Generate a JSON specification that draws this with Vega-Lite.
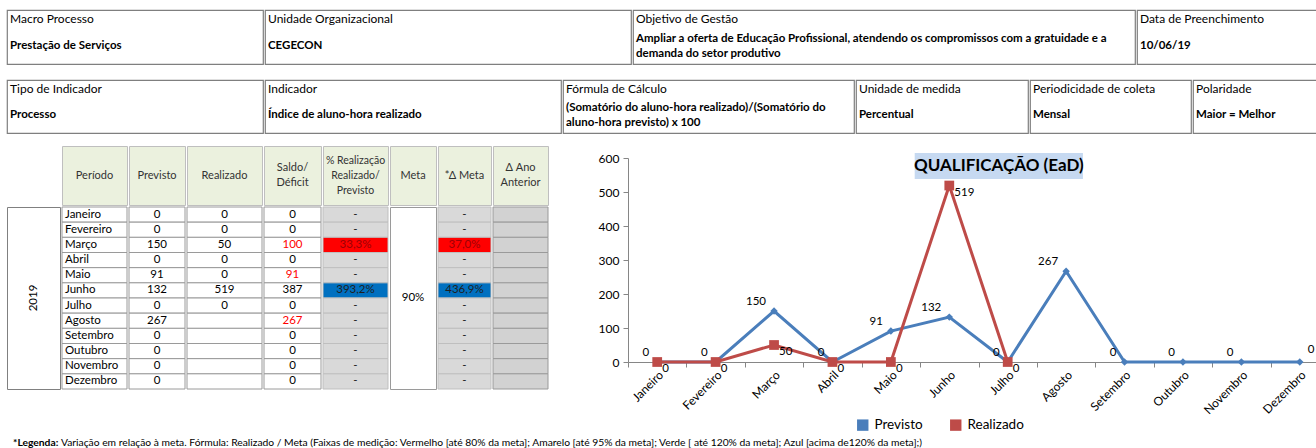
{
  "$schema": "https://vega.github.io/schema/vega-lite/v6.json",
  "padding": {"left": 6, "top": 9, "right": 0, "bottom": 0},
  "background": "white",
  "config": {"font": "Lato", "view": {"stroke": null}},
  "datasets": {
    "tabela": [
      {"Mes": "Janeiro", "Previsto": 0, "Realizado": 0, "Saldo": 0, "Realizacao": "-", "DeltaMeta": "-", "Faixa": "sem"},
      {"Mes": "Fevereiro", "Previsto": 0, "Realizado": 0, "Saldo": 0, "Realizacao": "-", "DeltaMeta": "-", "Faixa": "sem"},
      {"Mes": "Março", "Previsto": 150, "Realizado": 50, "Saldo": 100, "Realizacao": "33,3%", "DeltaMeta": "37,0%", "Faixa": "vermelho"},
      {"Mes": "Abril", "Previsto": 0, "Realizado": 0, "Saldo": 0, "Realizacao": "-", "DeltaMeta": "-", "Faixa": "sem"},
      {"Mes": "Maio", "Previsto": 91, "Realizado": 0, "Saldo": 91, "Realizacao": "-", "DeltaMeta": "-", "Faixa": "sem"},
      {"Mes": "Junho", "Previsto": 132, "Realizado": 519, "Saldo": 387, "Realizacao": "393,2%", "DeltaMeta": "436,9%", "Faixa": "azul"},
      {"Mes": "Julho", "Previsto": 0, "Realizado": 0, "Saldo": 0, "Realizacao": "-", "DeltaMeta": "-", "Faixa": "sem"},
      {"Mes": "Agosto", "Previsto": 267, "Realizado": null, "Saldo": 267, "Realizacao": "-", "DeltaMeta": "-", "Faixa": "sem"},
      {"Mes": "Setembro", "Previsto": 0, "Realizado": null, "Saldo": 0, "Realizacao": "-", "DeltaMeta": "-", "Faixa": "sem"},
      {"Mes": "Outubro", "Previsto": 0, "Realizado": null, "Saldo": 0, "Realizacao": "-", "DeltaMeta": "-", "Faixa": "sem"},
      {"Mes": "Novembro", "Previsto": 0, "Realizado": null, "Saldo": 0, "Realizacao": "-", "DeltaMeta": "-", "Faixa": "sem"},
      {"Mes": "Dezembro", "Previsto": 0, "Realizado": null, "Saldo": 0, "Realizacao": "-", "DeltaMeta": "-", "Faixa": "sem"}
    ]
  },
  "spacing": 6,
  "resolve": {"scale": {"color": "independent"}, "legend": {"color": "independent"}},
  "vconcat": [
    {
      "spacing": 14,
      "vconcat": [
        {
          "spacing": 0,
          "hconcat": [
            {"width": 256, "height": 54, "view": {"stroke": "#7F7F7F", "strokeWidth": 1.2}, "data": {"values": [{"rotulo": "Macro Processo", "valor": "Prestação de Serviços"}]},
             "layer": [
              {"mark": {"type": "text", "align": "left", "dx": 3, "dy": -4.5, "fontSize": 12, "color": "#000"}, "encoding": {"x": {"datum": 0, "type": "quantitative", "scale": {"domain": [0, 1]}, "axis": null}, "y": {"datum": "rotulo", "type": "ordinal", "scale": {"domain": ["rotulo", "valor"]}, "axis": null}, "text": {"field": "rotulo"}}},
              {"mark": {"type": "text", "align": "left", "dx": 3, "dy": -4.5, "fontSize": 11.5, "fontWeight": "bold", "color": "#000"}, "encoding": {"x": {"datum": 0, "type": "quantitative", "scale": {"domain": [0, 1]}, "axis": null}, "y": {"datum": "valor", "type": "ordinal", "scale": {"domain": ["rotulo", "valor"]}, "axis": null}, "text": {"field": "valor"}}}
            ]},
            {"width": 366, "height": 54, "view": {"stroke": "#7F7F7F", "strokeWidth": 1.2}, "data": {"values": [{"rotulo": "Unidade Organizacional", "valor": "CEGECON"}]},
             "layer": [
              {"mark": {"type": "text", "align": "left", "dx": 3, "dy": -4.5, "fontSize": 12, "color": "#000"}, "encoding": {"x": {"datum": 0, "type": "quantitative", "scale": {"domain": [0, 1]}, "axis": null}, "y": {"datum": "rotulo", "type": "ordinal", "scale": {"domain": ["rotulo", "valor"]}, "axis": null}, "text": {"field": "rotulo"}}},
              {"mark": {"type": "text", "align": "left", "dx": 3, "dy": -4.5, "fontSize": 11.5, "fontWeight": "bold", "color": "#000"}, "encoding": {"x": {"datum": 0, "type": "quantitative", "scale": {"domain": [0, 1]}, "axis": null}, "y": {"datum": "valor", "type": "ordinal", "scale": {"domain": ["rotulo", "valor"]}, "axis": null}, "text": {"field": "valor"}}}
            ]},
            {"width": 502, "height": 54, "view": {"stroke": "#7F7F7F", "strokeWidth": 1.2}, "data": {"values": [{"rotulo": "Objetivo de Gestão", "valor": "Ampliar a oferta de Educação Profissional, atendendo os compromissos com a gratuidade e a\ndemanda do setor produtivo"}]},
             "layer": [
              {"mark": {"type": "text", "align": "left", "dx": 3, "dy": -4.5, "fontSize": 12, "color": "#000"}, "encoding": {"x": {"datum": 0, "type": "quantitative", "scale": {"domain": [0, 1]}, "axis": null}, "y": {"datum": "rotulo", "type": "ordinal", "scale": {"domain": ["rotulo", "valor"]}, "axis": null}, "text": {"field": "rotulo"}}},
              {"mark": {"type": "text", "align": "left", "dx": 3, "dy": -11.5, "fontSize": 11.5, "fontWeight": "bold", "color": "#000", "lineBreak": "\n", "lineHeight": 15}, "encoding": {"x": {"datum": 0, "type": "quantitative", "scale": {"domain": [0, 1]}, "axis": null}, "y": {"datum": "valor", "type": "ordinal", "scale": {"domain": ["rotulo", "valor"]}, "axis": null}, "text": {"field": "valor"}}}
            ]},
            {"width": 190, "height": 54, "view": {"stroke": "#7F7F7F", "strokeWidth": 1.2}, "data": {"values": [{"rotulo": "Data de Preenchimento", "valor": "10/06/19"}]},
             "layer": [
              {"mark": {"type": "text", "align": "left", "dx": 3, "dy": -4.5, "fontSize": 12, "color": "#000"}, "encoding": {"x": {"datum": 0, "type": "quantitative", "scale": {"domain": [0, 1]}, "axis": null}, "y": {"datum": "rotulo", "type": "ordinal", "scale": {"domain": ["rotulo", "valor"]}, "axis": null}, "text": {"field": "rotulo"}}},
              {"mark": {"type": "text", "align": "left", "dx": 3, "dy": -4.5, "fontSize": 11.5, "fontWeight": "bold", "color": "#000"}, "encoding": {"x": {"datum": 0, "type": "quantitative", "scale": {"domain": [0, 1]}, "axis": null}, "y": {"datum": "valor", "type": "ordinal", "scale": {"domain": ["rotulo", "valor"]}, "axis": null}, "text": {"field": "valor"}}}
            ]}
          ]
        },
        {
          "spacing": 0,
          "hconcat": [
            {"width": 256, "height": 53, "view": {"stroke": "#7F7F7F", "strokeWidth": 1.2}, "data": {"values": [{"rotulo": "Tipo de Indicador", "valor": "Processo"}]},
             "layer": [
              {"mark": {"type": "text", "align": "left", "dx": 3, "dy": -4.5, "fontSize": 12, "color": "#000"}, "encoding": {"x": {"datum": 0, "type": "quantitative", "scale": {"domain": [0, 1]}, "axis": null}, "y": {"datum": "rotulo", "type": "ordinal", "scale": {"domain": ["rotulo", "valor"]}, "axis": null}, "text": {"field": "rotulo"}}},
              {"mark": {"type": "text", "align": "left", "dx": 3, "dy": -4.5, "fontSize": 11.5, "fontWeight": "bold", "color": "#000"}, "encoding": {"x": {"datum": 0, "type": "quantitative", "scale": {"domain": [0, 1]}, "axis": null}, "y": {"datum": "valor", "type": "ordinal", "scale": {"domain": ["rotulo", "valor"]}, "axis": null}, "text": {"field": "valor"}}}
            ]},
            {"width": 296, "height": 53, "view": {"stroke": "#7F7F7F", "strokeWidth": 1.2}, "data": {"values": [{"rotulo": "Indicador", "valor": "Índice de aluno-hora realizado"}]},
             "layer": [
              {"mark": {"type": "text", "align": "left", "dx": 3, "dy": -4.5, "fontSize": 12, "color": "#000"}, "encoding": {"x": {"datum": 0, "type": "quantitative", "scale": {"domain": [0, 1]}, "axis": null}, "y": {"datum": "rotulo", "type": "ordinal", "scale": {"domain": ["rotulo", "valor"]}, "axis": null}, "text": {"field": "rotulo"}}},
              {"mark": {"type": "text", "align": "left", "dx": 3, "dy": -4.5, "fontSize": 11.5, "fontWeight": "bold", "color": "#000"}, "encoding": {"x": {"datum": 0, "type": "quantitative", "scale": {"domain": [0, 1]}, "axis": null}, "y": {"datum": "valor", "type": "ordinal", "scale": {"domain": ["rotulo", "valor"]}, "axis": null}, "text": {"field": "valor"}}}
            ]},
            {"width": 291, "height": 53, "view": {"stroke": "#7F7F7F", "strokeWidth": 1.2}, "data": {"values": [{"rotulo": "Fórmula  de Cálculo", "valor": "(Somatório do aluno-hora realizado)/(Somatório do\naluno-hora previsto) x 100"}]},
             "layer": [
              {"mark": {"type": "text", "align": "left", "dx": 3, "dy": -4.5, "fontSize": 12, "color": "#000"}, "encoding": {"x": {"datum": 0, "type": "quantitative", "scale": {"domain": [0, 1]}, "axis": null}, "y": {"datum": "rotulo", "type": "ordinal", "scale": {"domain": ["rotulo", "valor"]}, "axis": null}, "text": {"field": "rotulo"}}},
              {"mark": {"type": "text", "align": "left", "dx": 3, "dy": -11.5, "fontSize": 11.5, "fontWeight": "bold", "color": "#000", "lineBreak": "\n", "lineHeight": 15}, "encoding": {"x": {"datum": 0, "type": "quantitative", "scale": {"domain": [0, 1]}, "axis": null}, "y": {"datum": "valor", "type": "ordinal", "scale": {"domain": ["rotulo", "valor"]}, "axis": null}, "text": {"field": "valor"}}}
            ]},
            {"width": 172, "height": 53, "view": {"stroke": "#7F7F7F", "strokeWidth": 1.2}, "data": {"values": [{"rotulo": "Unidade de medida", "valor": "Percentual"}]},
             "layer": [
              {"mark": {"type": "text", "align": "left", "dx": 3, "dy": -4.5, "fontSize": 12, "color": "#000"}, "encoding": {"x": {"datum": 0, "type": "quantitative", "scale": {"domain": [0, 1]}, "axis": null}, "y": {"datum": "rotulo", "type": "ordinal", "scale": {"domain": ["rotulo", "valor"]}, "axis": null}, "text": {"field": "rotulo"}}},
              {"mark": {"type": "text", "align": "left", "dx": 3, "dy": -4.5, "fontSize": 11.5, "fontWeight": "bold", "color": "#000"}, "encoding": {"x": {"datum": 0, "type": "quantitative", "scale": {"domain": [0, 1]}, "axis": null}, "y": {"datum": "valor", "type": "ordinal", "scale": {"domain": ["rotulo", "valor"]}, "axis": null}, "text": {"field": "valor"}}}
            ]},
            {"width": 161, "height": 53, "view": {"stroke": "#7F7F7F", "strokeWidth": 1.2}, "data": {"values": [{"rotulo": "Periodicidade de coleta", "valor": "Mensal"}]},
             "layer": [
              {"mark": {"type": "text", "align": "left", "dx": 3, "dy": -4.5, "fontSize": 12, "color": "#000"}, "encoding": {"x": {"datum": 0, "type": "quantitative", "scale": {"domain": [0, 1]}, "axis": null}, "y": {"datum": "rotulo", "type": "ordinal", "scale": {"domain": ["rotulo", "valor"]}, "axis": null}, "text": {"field": "rotulo"}}},
              {"mark": {"type": "text", "align": "left", "dx": 3, "dy": -4.5, "fontSize": 11.5, "fontWeight": "bold", "color": "#000"}, "encoding": {"x": {"datum": 0, "type": "quantitative", "scale": {"domain": [0, 1]}, "axis": null}, "y": {"datum": "valor", "type": "ordinal", "scale": {"domain": ["rotulo", "valor"]}, "axis": null}, "text": {"field": "valor"}}}
            ]},
            {"width": 135, "height": 53, "view": {"stroke": "#7F7F7F", "strokeWidth": 1.2}, "data": {"values": [{"rotulo": "Polaridade", "valor": "Maior = Melhor"}]},
             "layer": [
              {"mark": {"type": "text", "align": "left", "dx": 3, "dy": -4.5, "fontSize": 12, "color": "#000"}, "encoding": {"x": {"datum": 0, "type": "quantitative", "scale": {"domain": [0, 1]}, "axis": null}, "y": {"datum": "rotulo", "type": "ordinal", "scale": {"domain": ["rotulo", "valor"]}, "axis": null}, "text": {"field": "rotulo"}}},
              {"mark": {"type": "text", "align": "left", "dx": 3, "dy": -4.5, "fontSize": 11.5, "fontWeight": "bold", "color": "#000"}, "encoding": {"x": {"datum": 0, "type": "quantitative", "scale": {"domain": [0, 1]}, "axis": null}, "y": {"datum": "valor", "type": "ordinal", "scale": {"domain": ["rotulo", "valor"]}, "axis": null}, "text": {"field": "valor"}}}
            ]}
          ]
        }
      ]
    },
    {
      "spacing": 6,
      "resolve": {"scale": {"color": "independent"}, "legend": {"color": "independent"}},
      "vconcat": [
        {
          "spacing": 49,
          "align": "none",
          "resolve": {"scale": {"color": "independent"}, "legend": {"color": "independent"}},
          "hconcat": [
            {
              "spacing": 0,
              "vconcat": [
                {"spacing": 0, "hconcat": [
                  {"width": 54, "height": 59, "view": {"fill": "white"}, "data": {"values": [{}]}, "mark": {"type": "text"}, "encoding": {"text": {"value": ""}}},
                  {"width": 65, "height": 59, "view": {"fill": "#EBF1DE", "stroke": "#BFBFBF"}, "data": {"values": [{"t": "Período"}]}, "mark": {"type": "text", "fontSize": 11, "color": "#333"}, "encoding": {"text": {"field": "t"}}},
                  {"width": 56, "height": 59, "view": {"fill": "#EBF1DE", "stroke": "#BFBFBF"}, "data": {"values": [{"t": "Previsto"}]}, "mark": {"type": "text", "fontSize": 11, "color": "#333"}, "encoding": {"text": {"field": "t"}}},
                  {"width": 75, "height": 59, "view": {"fill": "#EBF1DE", "stroke": "#BFBFBF"}, "data": {"values": [{"t": "Realizado"}]}, "mark": {"type": "text", "fontSize": 11, "color": "#333"}, "encoding": {"text": {"field": "t"}}},
                  {"width": 57, "height": 59, "view": {"fill": "#EBF1DE", "stroke": "#BFBFBF"}, "data": {"values": [{"t": "Saldo/\nDéficit"}]}, "mark": {"type": "text", "fontSize": 11, "color": "#333", "lineBreak": "\n", "lineHeight": 15, "dy": -7.5}, "encoding": {"text": {"field": "t"}}},
                  {"width": 65, "height": 59, "view": {"fill": "#EBF1DE", "stroke": "#BFBFBF"}, "data": {"values": [{"t": "% Realização\nRealizado/\nPrevisto"}]}, "mark": {"type": "text", "fontSize": 10.5, "color": "#333", "lineBreak": "\n", "lineHeight": 15, "dy": -15}, "encoding": {"text": {"field": "t"}}},
                  {"width": 46, "height": 59, "view": {"fill": "#EBF1DE", "stroke": "#BFBFBF"}, "data": {"values": [{"t": "Meta"}]}, "mark": {"type": "text", "fontSize": 11, "color": "#333"}, "encoding": {"text": {"field": "t"}}},
                  {"width": 53, "height": 59, "view": {"fill": "#EBF1DE", "stroke": "#BFBFBF"}, "data": {"values": [{"t": "*Δ Meta"}]}, "mark": {"type": "text", "fontSize": 11, "color": "#333"}, "encoding": {"text": {"field": "t"}}},
                  {"width": 55, "height": 59, "view": {"fill": "#EBF1DE", "stroke": "#BFBFBF"}, "data": {"values": [{"t": "Δ Ano\nAnterior"}]}, "mark": {"type": "text", "fontSize": 11, "color": "#333", "lineBreak": "\n", "lineHeight": 15, "dy": -7.5}, "encoding": {"text": {"field": "t"}}}
                ]},
                {"spacing": 0, "hconcat": [
                  {"width": 53, "height": 182, "view": {"stroke": "#808080"}, "data": {"values": [{"Ano": "2019"}]}, "mark": {"type": "text", "angle": 270, "fontSize": 11.5, "color": "#000"}, "encoding": {"text": {"field": "Ano"}}},
                  {"width": 65, "height": 182, "data": {"name": "tabela"}, "layer": [
                    {"mark": {"type": "rect", "fill": "#FFFFFF", "stroke": "#9A9A9A", "strokeWidth": 1}, "encoding": {"y": {"field": "Mes", "type": "ordinal", "scale": {"type": "band", "domain": ["Janeiro","Fevereiro","Março","Abril","Maio","Junho","Julho","Agosto","Setembro","Outubro","Novembro","Dezembro"], "paddingInner": 0, "paddingOuter": 0}, "axis": null}}},
                    {"mark": {"type": "text", "align": "left", "dx": 3, "fontSize": 11.5, "color": "#000"}, "encoding": {"x": {"datum": 0, "type": "quantitative", "scale": {"domain": [0, 1]}, "axis": null}, "y": {"field": "Mes", "type": "ordinal", "scale": {"type": "band", "domain": ["Janeiro","Fevereiro","Março","Abril","Maio","Junho","Julho","Agosto","Setembro","Outubro","Novembro","Dezembro"], "paddingInner": 0, "paddingOuter": 0}, "axis": null}, "text": {"field": "Mes"}}}
                  ]},
                  {"width": 56, "height": 182, "data": {"name": "tabela"}, "layer": [
                    {"mark": {"type": "rect", "fill": "#FFFFFF", "stroke": "#9A9A9A", "strokeWidth": 1}, "encoding": {"y": {"field": "Mes", "type": "ordinal", "scale": {"type": "band", "domain": ["Janeiro","Fevereiro","Março","Abril","Maio","Junho","Julho","Agosto","Setembro","Outubro","Novembro","Dezembro"], "paddingInner": 0, "paddingOuter": 0}, "axis": null}}},
                    {"mark": {"type": "text", "fontSize": 11.5, "color": "#000"}, "encoding": {"y": {"field": "Mes", "type": "ordinal", "scale": {"type": "band", "domain": ["Janeiro","Fevereiro","Março","Abril","Maio","Junho","Julho","Agosto","Setembro","Outubro","Novembro","Dezembro"], "paddingInner": 0, "paddingOuter": 0}, "axis": null}, "text": {"field": "Previsto", "type": "quantitative", "format": "d"}}}
                  ]},
                  {"width": 75, "height": 182, "data": {"name": "tabela"}, "layer": [
                    {"mark": {"type": "rect", "fill": "#FFFFFF", "stroke": "#9A9A9A", "strokeWidth": 1}, "encoding": {"y": {"field": "Mes", "type": "ordinal", "scale": {"type": "band", "domain": ["Janeiro","Fevereiro","Março","Abril","Maio","Junho","Julho","Agosto","Setembro","Outubro","Novembro","Dezembro"], "paddingInner": 0, "paddingOuter": 0}, "axis": null}}},
                    {"transform": [{"filter": "isValid(datum.Realizado)"}], "mark": {"type": "text", "fontSize": 11.5, "color": "#000"}, "encoding": {"y": {"field": "Mes", "type": "ordinal", "scale": {"type": "band", "domain": ["Janeiro","Fevereiro","Março","Abril","Maio","Junho","Julho","Agosto","Setembro","Outubro","Novembro","Dezembro"], "paddingInner": 0, "paddingOuter": 0}, "axis": null}, "text": {"field": "Realizado", "type": "quantitative", "format": "d"}}}
                  ]},
                  {"width": 57, "height": 182, "data": {"name": "tabela"}, "layer": [
                    {"mark": {"type": "rect", "fill": "#FFFFFF", "stroke": "#9A9A9A", "strokeWidth": 1}, "encoding": {"y": {"field": "Mes", "type": "ordinal", "scale": {"type": "band", "domain": ["Janeiro","Fevereiro","Março","Abril","Maio","Junho","Julho","Agosto","Setembro","Outubro","Novembro","Dezembro"], "paddingInner": 0, "paddingOuter": 0}, "axis": null}}},
                    {"mark": {"type": "text", "fontSize": 11.5}, "encoding": {"y": {"field": "Mes", "type": "ordinal", "scale": {"type": "band", "domain": ["Janeiro","Fevereiro","Março","Abril","Maio","Junho","Julho","Agosto","Setembro","Outubro","Novembro","Dezembro"], "paddingInner": 0, "paddingOuter": 0}, "axis": null}, "text": {"field": "Saldo", "type": "quantitative", "format": "d"}, "color": {"condition": {"test": "datum.Saldo > 0 && !(datum.Realizado > datum.Previsto)", "value": "#FF0000"}, "value": "#000000"}}}
                  ]},
                  {"width": 65, "height": 182, "data": {"name": "tabela"}, "layer": [
                    {"mark": {"type": "rect", "stroke": "#BFBFBF", "strokeWidth": 1}, "encoding": {"y": {"field": "Mes", "type": "ordinal", "scale": {"type": "band", "domain": ["Janeiro","Fevereiro","Março","Abril","Maio","Junho","Julho","Agosto","Setembro","Outubro","Novembro","Dezembro"], "paddingInner": 0, "paddingOuter": 0}, "axis": null}, "fill": {"field": "Faixa", "type": "nominal", "scale": {"domain": ["sem", "vermelho", "azul"], "range": ["#D9D9D9", "#FF0000", "#0070C0"]}, "legend": null}}},
                    {"mark": {"type": "text", "fontSize": 11.5}, "encoding": {"y": {"field": "Mes", "type": "ordinal", "scale": {"type": "band", "domain": ["Janeiro","Fevereiro","Março","Abril","Maio","Junho","Julho","Agosto","Setembro","Outubro","Novembro","Dezembro"], "paddingInner": 0, "paddingOuter": 0}, "axis": null}, "text": {"field": "Realizacao"}, "color": {"condition": {"test": "datum.Faixa == 'vermelho'", "value": "#9C0006"}, "value": "#1F1F1F"}}}
                  ]},
                  {"width": 46, "height": 182, "view": {"stroke": "#9A9A9A", "fill": "white"}, "data": {"values": [{"Meta": "90%"}]}, "mark": {"type": "text", "fontSize": 11.5, "color": "#000"}, "encoding": {"text": {"field": "Meta"}}},
                  {"width": 53, "height": 182, "data": {"name": "tabela"}, "layer": [
                    {"mark": {"type": "rect", "stroke": "#BFBFBF", "strokeWidth": 1}, "encoding": {"y": {"field": "Mes", "type": "ordinal", "scale": {"type": "band", "domain": ["Janeiro","Fevereiro","Março","Abril","Maio","Junho","Julho","Agosto","Setembro","Outubro","Novembro","Dezembro"], "paddingInner": 0, "paddingOuter": 0}, "axis": null}, "fill": {"field": "Faixa", "type": "nominal", "scale": {"domain": ["sem", "vermelho", "azul"], "range": ["#D9D9D9", "#FF0000", "#0070C0"]}, "legend": null}}},
                    {"mark": {"type": "text", "fontSize": 11.5}, "encoding": {"y": {"field": "Mes", "type": "ordinal", "scale": {"type": "band", "domain": ["Janeiro","Fevereiro","Março","Abril","Maio","Junho","Julho","Agosto","Setembro","Outubro","Novembro","Dezembro"], "paddingInner": 0, "paddingOuter": 0}, "axis": null}, "text": {"field": "DeltaMeta"}, "color": {"condition": {"test": "datum.Faixa == 'vermelho'", "value": "#9C0006"}, "value": "#1F1F1F"}}}
                  ]},
                  {"width": 55, "height": 182, "data": {"name": "tabela"}, "layer": [
                    {"mark": {"type": "rect", "fill": "#D2D2D2", "stroke": "#9A9A9A", "strokeWidth": 1}, "encoding": {"y": {"field": "Mes", "type": "ordinal", "scale": {"type": "band", "domain": ["Janeiro","Fevereiro","Março","Abril","Maio","Junho","Julho","Agosto","Setembro","Outubro","Novembro","Dezembro"], "paddingInner": 0, "paddingOuter": 0}, "axis": null}}}
                  ]}
                ]}
              ]
            },
            {
              "spacing": 0,
              "resolve": {"scale": {"color": "independent"}, "legend": {"color": "independent"}},
              "vconcat": [
                {"width": 701, "height": 1, "view": {"fill": "white"}, "data": {"values": [{}]}, "mark": {"type": "text"}, "encoding": {"text": {"value": ""}}},
                {
                  "width": 701,
                  "height": 204,
                  "layer": [
                    {
                      "data": {"name": "tabela"},
                      "transform": [
                        {"fold": ["Previsto", "Realizado"], "as": ["Serie", "Valor"]},
                        {"filter": "isValid(datum.Valor)"}
                      ],
                      "encoding": {
                        "x": {"field": "Mes", "type": "ordinal", "sort": null,
                          "scale": {"type": "band", "domain": ["Janeiro","Fevereiro","Março","Abril","Maio","Junho","Julho","Agosto","Setembro","Outubro","Novembro","Dezembro"], "paddingInner": 0, "paddingOuter": 0},
                          "axis": {"title": null, "labelAngle": -45, "labelFontSize": 12, "labelColor": "#000", "labelOverlap": false, "tickBand": "extent", "tickSize": 5, "tickColor": "#868686", "domainColor": "#868686", "labelPadding": 2}},
                        "y": {"field": "Valor", "type": "quantitative",
                          "scale": {"domain": [0, 600], "nice": false},
                          "axis": {"title": null, "values": [0, 100, 200, 300, 400, 500, 600], "grid": false, "tickSize": 5, "tickColor": "#868686", "domainColor": "#868686", "labelFontSize": 12, "labelColor": "#000", "labelPadding": 4}}
                      },
                      "layer": [
                        {"mark": {"type": "line", "strokeWidth": 3},
                         "encoding": {"color": {"field": "Serie", "type": "nominal", "scale": {"domain": ["Previsto", "Realizado"], "range": ["#4A7EBB", "#BE4B48"]},
                           "legend": {"title": null, "orient": "none", "legendX": 228, "legendY": 260, "direction": "horizontal", "labelFontSize": 13.5, "labelColor": "#000", "symbolType": "square", "symbolSize": 130, "columnPadding": 26, "labelOffset": 5,
                             "encode": {"symbols": {"update": {"shape": {"value": "square"}, "fill": {"signal": "datum.value == 'Previsto' ? '#4A7EBB' : '#BE4B48'"}, "stroke": {"value": "transparent"}, "strokeWidth": {"value": 0}, "opacity": {"value": 1}}}}}}}},
                        {"mark": {"type": "point", "filled": true, "opacity": 1, "strokeWidth": 0},
                         "encoding": {
                           "color": {"field": "Serie", "type": "nominal", "scale": {"domain": ["Previsto", "Realizado"], "range": ["#4A7EBB", "#BE4B48"]},
                             "legend": {"title": null, "orient": "none", "legendX": 228, "legendY": 260, "direction": "horizontal", "labelFontSize": 13.5, "labelColor": "#000", "symbolType": "square", "symbolSize": 130, "columnPadding": 26, "labelOffset": 5,
                               "encode": {"symbols": {"update": {"shape": {"value": "square"}, "fill": {"signal": "datum.value == 'Previsto' ? '#4A7EBB' : '#BE4B48'"}, "stroke": {"value": "transparent"}, "strokeWidth": {"value": 0}, "opacity": {"value": 1}}}}}},
                           "shape": {"field": "Serie", "type": "nominal", "scale": {"domain": ["Previsto", "Realizado"], "range": ["diamond", "square"]}, "legend": null},
                           "size": {"field": "Serie", "type": "nominal", "scale": {"domain": ["Previsto", "Realizado"], "range": [55, 95]}, "legend": null}
                         }},
                        {"transform": [{"filter": "datum.Serie == 'Previsto' && datum.Mes != 'Dezembro'"}],
                         "mark": {"type": "text", "align": "right", "baseline": "middle", "dx": -8, "dy": -9, "fontSize": 11.5, "color": "#000"},
                         "encoding": {"text": {"field": "Valor", "type": "quantitative", "format": "d"}}},
                        {"transform": [{"filter": "datum.Serie == 'Previsto' && datum.Mes == 'Dezembro'"}],
                         "mark": {"type": "text", "align": "left", "baseline": "middle", "dx": 8, "dy": -12, "fontSize": 11.5, "color": "#000"},
                         "encoding": {"text": {"field": "Valor", "type": "quantitative", "format": "d"}}},
                        {"transform": [{"filter": "datum.Serie == 'Realizado'"}],
                         "mark": {"type": "text", "align": "left", "baseline": "middle", "dx": 5, "dy": 7, "fontSize": 11.5, "color": "#000"},
                         "encoding": {"text": {"field": "Valor", "type": "quantitative", "format": "d"}}}
                      ]
                    },
                    {
                      "data": {"values": [{"titulo": "QUALIFICAÇÃO (EaD)"}]},
                      "layer": [
                        {"mark": {"type": "rect", "fill": "#C6D9F1"},
                         "encoding": {
                           "x": {"datum": 0.409, "type": "quantitative", "scale": {"domain": [0, 1]}, "axis": null},
                           "x2": {"datum": 0.649},
                           "y": {"datum": 1.0245, "type": "quantitative", "scale": {"domain": [0, 1]}, "axis": null},
                           "y2": {"datum": 0.897}
                         }},
                        {"mark": {"type": "text", "fontSize": 17, "fontWeight": "bold", "color": "#000"},
                         "encoding": {
                           "x": {"datum": 0.529, "type": "quantitative", "scale": {"domain": [0, 1]}, "axis": null},
                           "y": {"datum": 0.961, "type": "quantitative", "scale": {"domain": [0, 1]}, "axis": null},
                           "text": {"field": "titulo"}
                         }}
                      ]
                    }
                  ],
                  "resolve": {"scale": {"x": "independent", "y": "independent"}}
                }
              ]
            }
          ]
        },
        {
          "spacing": 0,
          "hconcat": [
            {"width": 50, "height": 10, "data": {"values": [{"t": "*Legenda:"}]}, "mark": {"type": "text", "align": "left", "dx": 6, "fontSize": 10.3, "fontWeight": "bold", "color": "#000"}, "encoding": {"x": {"datum": 0, "type": "quantitative", "scale": {"domain": [0, 1]}, "axis": null}, "text": {"field": "t"}}},
            {"width": 1200, "height": 10, "data": {"values": [{"t": "Variação em relação à meta. Fórmula: Realizado / Meta (Faixas de medição: Vermelho [até 80% da meta]; Amarelo [até 95% da meta]; Verde [ até 120% da meta]; Azul [acima de120% da meta];)"}]}, "mark": {"type": "text", "align": "left", "dx": 2, "fontSize": 10.3, "color": "#000"}, "encoding": {"x": {"datum": 0, "type": "quantitative", "scale": {"domain": [0, 1]}, "axis": null}, "text": {"field": "t"}}}
          ]
        }
      ]
    }
  ]
}
